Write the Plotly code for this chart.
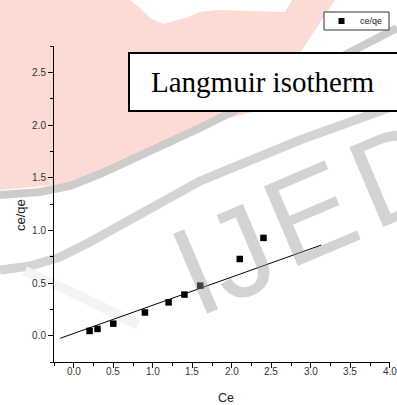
import numpy as np
import plotly.graph_objects as go

# Measured points
ce = [0.2, 0.3, 0.5, 0.9, 1.2, 1.4, 1.6, 2.1, 2.4]
ce_qe = [0.045, 0.064, 0.114, 0.22, 0.316, 0.39, 0.475, 0.728, 0.928]

# Linear fit drawn across the plot
fit_intercept = 0.021
fit_slope = 0.268
fit_x_range = [-0.17, 3.13]

x_ticks = [0.0, 0.5, 1.0, 1.5, 2.0, 2.5, 3.0, 3.5, 4.0]
x_tick_labels = ["0.0", "0.5", "1.0", "1.5", "2.0", "2.5", "3.0", "3.5", "4.0"]
y_ticks = [0.0, 0.5, 1.0, 1.5, 2.0, 2.5]

series_name = "ce/qe"
x_title = "Ce"
y_title = "ce/qe"
box_title = "Langmuir isotherm"

W, H = 397, 405
L, R, T, B = 54, 7, 46, 43
PW, PH = W - L - R, H - T - B


def px(x):
    return (x - L) / PW


def py(y):
    return (H - B - y) / PH


def path(points, close=False):
    s = "M " + " L ".join(f"{px(a):.4f},{py(b):.4f}" for a, b in points)
    return s + (" Z" if close else "")


SANS = "Liberation Sans, Arial"

fig = go.Figure()

fit_x = np.array(fit_x_range)
fig.add_trace(go.Scatter(
    x=fit_x, y=fit_intercept + fit_slope * fit_x, mode="lines",
    line=dict(color="black", width=1), showlegend=False, hoverinfo="skip"))

fig.add_trace(go.Scatter(
    x=ce, y=ce_qe, mode="markers", name=series_name, showlegend=False,
    marker=dict(symbol="square", size=6.5, color="black")))

# background logo wash
pink = [(0, 0), (130, 0), (140, 8), (150, 18), (163, 24), (185, 18), (200, 12),
        (217, 10), (285, 12), (292, 0), (335, 0), (300, 53), (260, 110),
        (230, 118), (200, 127), (130, 163), (90, 180), (55, 185), (0, 190)]
band_a = [(0, 195), (40, 192), (70, 186), (100, 174), (200, 128), (300, 78), (397, 28)]
band_b = [(0, 270), (30, 266), (60, 257), (90, 242), (200, 181), (300, 140), (397, 105)]
band_c = [(25, 271), (80, 296), (138, 325)]

shapes = [
    dict(type="path", path=path(pink, True), xref="paper", yref="paper",
         fillcolor="#fcdbd4", line=dict(width=0), layer="below"),
    dict(type="path", path=path(band_a), xref="paper", yref="paper",
         line=dict(color="#d0cbcb", width=8), layer="below"),
    dict(type="path", path=path(band_b), xref="paper", yref="paper",
         line=dict(color="#d4d4d4", width=9), layer="below"),
    dict(type="path", path=path(band_c), xref="paper", yref="paper",
         line=dict(color="#f4f4f4", width=10), layer="below"),
    # title frame
    dict(type="rect", xref="paper", yref="paper",
         x0=px(129), x1=px(405), y0=py(111), y1=py(53),
         fillcolor="white", line=dict(color="black", width=2), layer="above"),
    # legend frame and symbol
    dict(type="rect", xref="paper", yref="paper",
         x0=px(324), x1=px(389), y0=py(30), y1=py(12),
         fillcolor="white", line=dict(color="#333", width=1), layer="above"),
    dict(type="rect", xref="paper", yref="paper",
         x0=px(338.5), x1=px(344.5), y0=py(24), y1=py(18),
         fillcolor="black", line=dict(width=0), layer="above"),
]

annotations = []

# watermark letters
for ch, cx, cy in [("I", 195, 271), ("J", 239, 253), ("E", 310, 214), ("D", 398, 173)]:
    annotations.append(dict(
        text=ch, xref="paper", yref="paper", x=px(cx), y=py(cy),
        xanchor="center", yanchor="middle", showarrow=False, textangle=-23,
        font=dict(family=SANS, size=126, color="rgba(150,150,150,0.42)")))

annotations += [
    dict(text=box_title, xref="paper", yref="paper",
         x=px(149), y=py(82), xanchor="left", yanchor="middle", showarrow=False,
         font=dict(family="Liberation Serif, Times New Roman", size=29, color="black")),
    dict(text=series_name, xref="paper", yref="paper", x=px(371), y=py(21),
         xanchor="center", yanchor="middle", showarrow=False,
         font=dict(family=SANS, size=9, color="#222")),
    dict(text=y_title, xref="paper", yref="paper", x=px(20), y=py(215),
         xanchor="center", yanchor="middle", showarrow=False, textangle=-90,
         font=dict(family=SANS, size=13, color="#222")),
    dict(text=x_title, xref="paper", yref="paper", x=px(226), y=py(398),
         xanchor="center", yanchor="middle", showarrow=False,
         font=dict(family=SANS, size=12.5, color="#222")),
]

for v, lab in zip(x_ticks, x_tick_labels):
    annotations.append(dict(
        text=lab, xref="x", yref="paper", x=v, y=py(371),
        xanchor="center", yanchor="middle", showarrow=False,
        font=dict(family=SANS, size=10, color="#333")))

axis_common = dict(
    showline=True, linecolor="black", linewidth=1, mirror=False,
    showgrid=False, zeroline=False, ticks="outside", ticklen=5,
    tickcolor="black", tickwidth=1, tickformat=".1f",
    tickfont=dict(family=SANS, size=10, color="#333"),
    minor=dict(dtick=0.25, ticks="outside", ticklen=3, tickcolor="black"),
)

fig.update_layout(
    width=W, height=H,
    margin=dict(l=L, r=R, t=T, b=B),
    paper_bgcolor="white", plot_bgcolor="rgba(0,0,0,0)",
    xaxis=dict(range=[-0.25, 4.0005], tickvals=x_ticks, showticklabels=False,
               **axis_common),
    yaxis=dict(range=[-0.25, 2.75], tickvals=y_ticks, **axis_common),
    shapes=shapes, annotations=annotations,
    showlegend=False,
)

fig.write_html("out.html")
